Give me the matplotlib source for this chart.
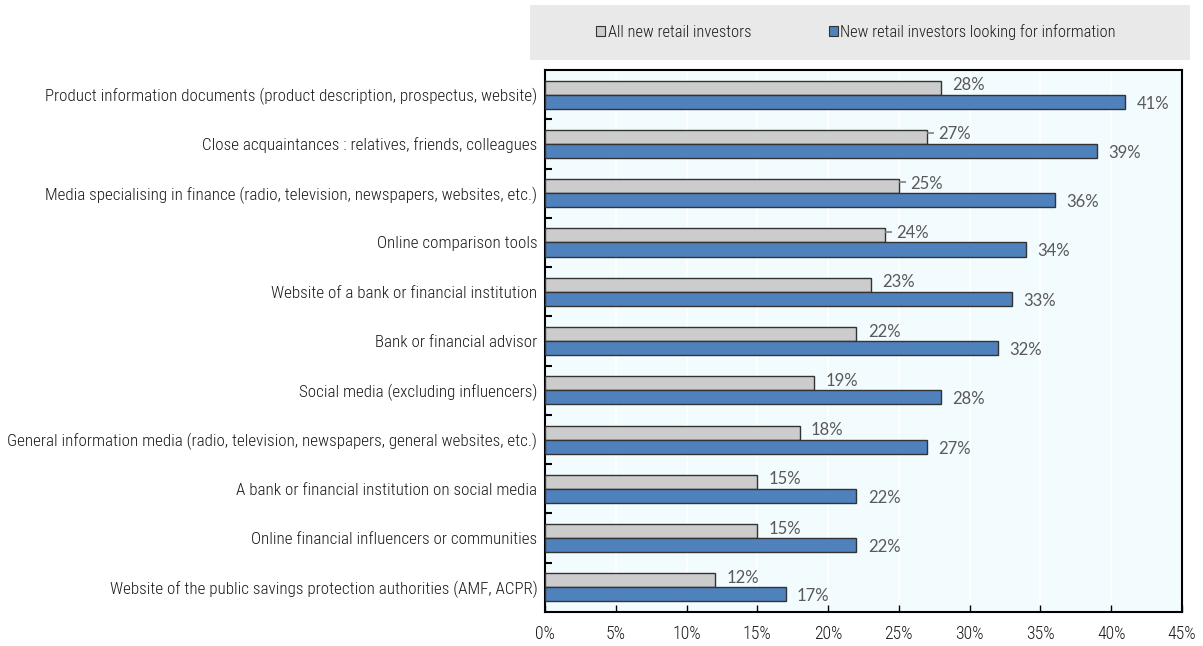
import matplotlib
matplotlib.use("Agg")
import matplotlib.pyplot as plt
import numpy as np
from matplotlib import font_manager
from matplotlib.font_manager import FontProperties
from matplotlib.patches import Rectangle, Patch
from matplotlib.ticker import FuncFormatter, FixedLocator

categories = [
    "Product information documents (product description, prospectus, website)",
    "Close acquaintances : relatives, friends, colleagues",
    "Media specialising in finance (radio, television, newspapers, websites, etc.)",
    "Online comparison tools",
    "Website of a bank or financial institution",
    "Bank or financial advisor",
    "Social media (excluding influencers)",
    "General information media (radio, television, newspapers, general websites, etc.)",
    "A bank or financial institution on social media",
    "Online financial influencers or communities",
    "Website of the public savings protection authorities (AMF, ACPR)",
]
all_investors = [28, 27, 25, 24, 23, 22, 19, 18, 15, 15, 12]
info_seekers = [41, 39, 36, 34, 33, 32, 28, 27, 22, 22, 17]
series_names = ["All new retail investors", "New retail investors looking for information"]
x_ticks = [0, 5, 10, 15, 20, 25, 30, 35, 40, 45]

# pick a narrow sans face if one is installed
installed = {f.name for f in font_manager.fontManager.ttflist}
narrow_name = next((n for n in ["Liberation Sans Narrow", "Arial Narrow", "Roboto Condensed",
                                "DejaVu Sans Condensed", "Open Sans Condensed"]
                    if n in installed), None)


def narrow_prop(size):
    if narrow_name:
        return FontProperties(family=[narrow_name, "DejaVu Sans"], size=size, weight="light")
    return FontProperties(family=["DejaVu Sans"], stretch="condensed", size=size)


label_font = ["Lato", "DejaVu Sans"]
gray_fill, blue_fill = "#CCCCCC", "#4F81BD"
edge = "#333333"
value_color = "#595959"
text_color = "#1A1A1A"

fig = plt.figure(figsize=(12.03, 6.46), dpi=100)
ax = fig.add_axes([0.453, 0.0526, 0.5295, 0.839])
ax.set_facecolor("#F2FBFE")

n = len(categories)
y = np.arange(n)
h = 0.285
ax.barh(y - h / 2, all_investors, height=h, color=gray_fill, edgecolor=edge,
        linewidth=1.0, zorder=3)
ax.barh(y + h / 2, info_seekers, height=h, color=blue_fill, edgecolor=edge,
        linewidth=1.0, zorder=3)

# value labels; a few grey labels get a short leader line
leader = {1, 2, 3}
gap = 0.8
for i, (a, b) in enumerate(zip(all_investors, info_seekers)):
    ya = y[i] - h / 2 - 0.05
    if i in leader:
        ax.plot([a, a + 0.5], [ya - 0.03, ya - 0.03], color="#808080", lw=1.2, zorder=4,
                solid_capstyle="butt")
    ax.text(a + gap, ya, f"{a}%", fontsize=12, family=label_font,
            color=value_color, va="center", ha="left", zorder=4)
    ax.text(b + gap, y[i] + h / 2 + 0.04, f"{b}%", fontsize=12, family=label_font,
            color=value_color, va="center", ha="left", zorder=4)

ax.set_xlim(0, 45)
ax.set_ylim(n - 0.5, -0.5)
ax.xaxis.set_major_locator(FixedLocator(x_ticks))
ax.xaxis.set_major_formatter(FuncFormatter(lambda v, p: f"{v:.0f}%"))
ax.grid(axis="x", color="white", linewidth=1.3, zorder=1)
ax.set_axisbelow(True)

ax.set_yticks(y)
ax.set_yticklabels(categories, color=text_color)
ax.tick_params(axis="y", which="major", length=0, pad=5.5)
ax.set_yticks(np.arange(0.5, n - 1, 1.0), minor=True)
ax.tick_params(axis="y", which="minor", length=5, width=1.5, direction="in", color="black")
ax.tick_params(axis="x", which="major", length=5, width=1.0, direction="in", pad=9,
               labelcolor=text_color)

for s in ax.spines.values():
    s.set_color("black")
    s.set_linewidth(1.5)

# size the category labels so the longest one spans the left margin
base = 10.5
for lab in ax.get_yticklabels():
    lab.set_fontproperties(narrow_prop(base))
fig.canvas.draw()
renderer = fig.canvas.get_renderer()
widest = max(l.get_window_extent(renderer).width for l in ax.get_yticklabels())
size = base * 527.0 / widest
for lab in ax.get_yticklabels():
    lab.set_fontproperties(narrow_prop(size))
for lab in ax.get_xticklabels():
    lab.set_fontproperties(narrow_prop(size * 1.05))

# legend band above the plot
fig.patches.append(Rectangle((530 / 1203, 1 - 60 / 646), 660 / 1203, 55 / 646,
                             transform=fig.transFigure, facecolor="#E9E9E9",
                             edgecolor="none", zorder=0))
handles = [Patch(facecolor=gray_fill, edgecolor=edge, linewidth=0.8),
           Patch(facecolor=blue_fill, edgecolor=edge, linewidth=0.8)]
leg = fig.legend(handles, series_names, loc="center", ncol=2, frameon=False,
                 bbox_to_anchor=(856 / 1203, 1 - 32 / 646), prop=narrow_prop(size * 0.97),
                 handlelength=0.55, handleheight=0.55, handletextpad=0.15, columnspacing=4.7)
for t in leg.get_texts():
    t.set_color(text_color)

fig.savefig("out.png", dpi=100)
